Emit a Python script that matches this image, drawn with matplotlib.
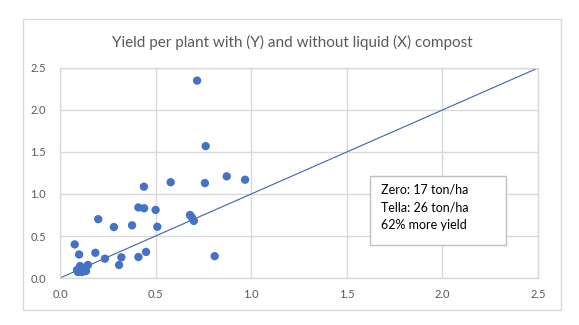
import matplotlib.pyplot as plt
from matplotlib.patches import Rectangle

# yield per plant, without liquid compost (X) and with it (Y)
x_without = [0.717, 0.762, 0.579, 0.758, 0.872, 0.968, 0.439, 0.41, 0.44, 0.50,
             0.20, 0.282, 0.377, 0.509, 0.68, 0.69, 0.70, 0.077, 0.10, 0.185,
             0.235, 0.321, 0.309, 0.41, 0.45, 0.809,
             0.089, 0.105, 0.126, 0.146, 0.115, 0.136, 0.094]
y_with = [2.35, 1.57, 1.14, 1.13, 1.21, 1.17, 1.087, 0.84, 0.83, 0.81,
          0.70, 0.607, 0.627, 0.61, 0.75, 0.72, 0.68, 0.40, 0.28, 0.30,
          0.23, 0.246, 0.155, 0.25, 0.31, 0.26,
          0.095, 0.143, 0.119, 0.155, 0.071, 0.083, 0.071]

ticks = [0.0, 0.5, 1.0, 1.5, 2.0, 2.5]
ref_line = [0.0, 2.5]   # y = x, equal yield
note_lines = ['Zero: 17 ton/ha', 'Tella: 26 ton/ha', '62% more yield']

blue = '#4472C4'
grey = '#D9D9D9'
txt = '#595959'
plt.rcParams['font.family'] = ['Lato', 'DejaVu Sans']

fig = plt.figure(figsize=(5.79, 3.25), dpi=100)
fig.patch.set_facecolor('white')

# chart frame
fig.patches.append(Rectangle((0.0397, 0.046), 0.929, 0.8955, transform=fig.transFigure,
                             fill=False, edgecolor=grey, linewidth=1.0))

ax = fig.add_axes((0.1036, 0.1446, 0.8256, 0.6462))
ax.plot(ref_line, ref_line, color='#3F63A8', linewidth=0.8, zorder=2)
ax.scatter(x_without, y_with, s=36, color=blue, edgecolors='none', zorder=3)

ax.set_xlim(0, 2.5)
ax.set_ylim(0, 2.5)
ax.set_xticks(ticks)
ax.set_yticks(ticks)
ax.set_xticklabels(['%.1f' % t for t in ticks])
ax.set_yticklabels(['%.1f' % t for t in ticks])
ax.tick_params(length=0, labelsize=8, colors=txt, pad=8)
ax.tick_params(axis='y', pad=10)
ax.grid(color=grey, linewidth=1.0, zorder=0)
ax.set_axisbelow(True)
for s in ax.spines.values():
    s.set_color(grey)
    s.set_linewidth(1.0)

fig.text(0.504, 0.87, 'Yield per plant with (Y) and without liquid (X) compost',
         ha='center', va='center', fontsize=11, color=txt)

# annotation box
fig.patches.append(Rectangle((0.639, 0.246), 0.235, 0.2125, transform=fig.transFigure,
                             facecolor='white', edgecolor='#BFBFBF', linewidth=1.0, zorder=5))
fig.text(0.658, 0.435, '\n'.join(note_lines), ha='left', va='top', fontsize=9,
         color='black', linespacing=1.55, zorder=6)

fig.savefig('out.png', dpi=100)
